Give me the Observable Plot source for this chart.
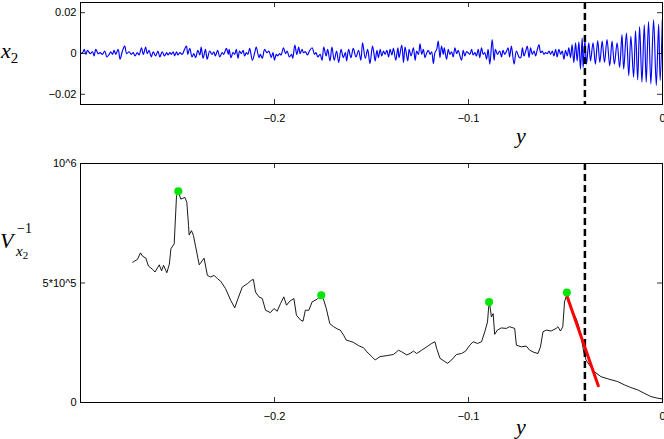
<!DOCTYPE html>
<html><head><meta charset="utf-8">
<script src="https://cdn.jsdelivr.net/npm/d3@7"></script>
<script src="https://cdn.jsdelivr.net/npm/@observablehq/plot@0.6"></script>
<style>
body{margin:0;background:#fff;}
#wrap{position:relative;width:664px;height:439px;overflow:hidden;background:#fff;}
.p{position:absolute;left:0;}
.lab{position:absolute;font-family:"Liberation Serif","DejaVu Serif",serif;font-style:italic;color:#000;line-height:1;white-space:nowrap;}
</style></head><body>
<div id="wrap">
  <div id="top" class="p" style="top:0px"></div>
  <div id="bot" class="p" style="top:150px"></div>
  <div class="lab" style="left:1px;top:40px;font-size:22px">x<span style="font-size:15px;font-style:normal;position:relative;top:5px">2</span></div>
  <div class="lab" style="left:516px;top:125px;font-size:22px">y</div>
  <div class="lab" style="left:516px;top:416px;font-size:22px">y</div>
  <div class="lab" style="left:0px;top:230px;font-size:22px">V</div>
  <div class="lab" style="left:17px;top:222px;font-size:14px;font-style:normal">−1</div>
  <div class="lab" style="left:16px;top:244px;font-size:15px">x<span style="font-size:11px;font-style:normal;position:relative;top:3px">2</span></div>
</div>
<script>
// ---- top panel: x2 signal (values in units of 1e-3) ----
const x2Pos = [
-0.2998,-0.2989,-0.2981,-0.2972,-0.2964,-0.2950,-0.2938,-0.2930,-0.2921,-0.2909,-0.2899,-0.2887,-0.2875,-0.2864,-0.2852,-0.2844,-0.2835,-0.2827,-0.2818,-0.2806,
-0.2796,-0.2784,-0.2772,-0.2762,-0.2750,-0.2738,-0.2728,-0.2719,-0.2707,-0.2698,-0.2686,-0.2676,-0.2664,-0.2656,-0.2647,-0.2635,-0.2625,-0.2613,-0.2601,-0.2591,
-0.2579,-0.2567,-0.2556,-0.2549,-0.2539,-0.2532,-0.2522,-0.2515,-0.2505,-0.2498,-0.2488,-0.2476,-0.2464,-0.2454,-0.2447,-0.2437,-0.2425,-0.2416,-0.2407,-0.2395,
-0.2385,-0.2378,-0.2368,-0.2356,-0.2347,-0.2334,-0.2322,-0.2313,-0.2305,-0.2293,-0.2282,-0.2270,-0.2262,-0.2248,-0.2238,
-0.2234,-0.2224,-0.2214,-0.2205,-0.2197,-0.2188,-0.2180,-0.2171,-0.2162,-0.2154,-0.2145,-0.2137,-0.2128,-0.2114,-0.2102,-0.2094,-0.2080,-0.2073,-0.2063,-0.2051,
-0.2039,-0.2029,-0.2017,-0.2008,-0.2000,-0.1991,-0.1983,-0.1974,-0.1966,-0.1954,-0.1943,-0.1935,-0.1923,-0.1912,-0.1906,-0.1895,-0.1885,-0.1875,-0.1868,-0.1858,
-0.1851,-0.1841,-0.1830,-0.1820,-0.1806,-0.1794,-0.1786,-0.1777,-0.1765,-0.1755,-0.1746,-0.1734,-0.1726,-0.1714,-0.1704,-0.1692,-0.1680,-0.1669,-0.1657,-0.1645,
-0.1635,-0.1628,-0.1618,-0.1606,-0.1594,-0.1580,-0.1567,-0.1555,-0.1546,-0.1532,-0.1520,-0.1508,-0.1495,-0.1488,
-0.1481,-0.1472,-0.1464,-0.1455,-0.1447,-0.1438,-0.1430,-0.1421,-0.1412,-0.1404,-0.1395,-0.1387,-0.1375,-0.1364,-0.1358,-0.1344,-0.1335,-0.1327,-0.1313,-0.1306,
-0.1296,-0.1284,-0.1275,-0.1267,-0.1258,-0.1250,-0.1241,-0.1233,-0.1224,-0.1215,-0.1207,-0.1198,-0.1190,-0.1181,-0.1173,-0.1164,-0.1156,-0.1147,-0.1139,-0.1130,
-0.1125,-0.1113,-0.1104,-0.1096,-0.1087,-0.1079,-0.1070,-0.1061,-0.1053,-0.1044,-0.1036,-0.1027,-0.1019,-0.1010,-0.1002,-0.0993,-0.0984,-0.0976,-0.0967,-0.0959,
-0.0950,-0.0942,-0.0933,-0.0924,-0.0916,-0.0907,-0.0899,-0.0890,-0.0878,-0.0868,-0.0861,-0.0851,-0.0839,-0.0830,-0.0822,-0.0813,-0.0805,-0.0796,-0.0788,-0.0779,
-0.0765,-0.0753,-0.0738,
-0.0731,-0.0722,-0.0714,-0.0705,-0.0697,-0.0688,-0.0680,-0.0671,-0.0662,-0.0654,-0.0645,-0.0637,-0.0628,-0.0620,-0.0611,-0.0603,-0.0594,-0.0585,-0.0577,-0.0568,
-0.0560,-0.0551,-0.0543,-0.0534,-0.0525,-0.0517,-0.0508,-0.0500,-0.0491,-0.0483,-0.0474,-0.0466,-0.0457,-0.0448,-0.0440,-0.0431,-0.0423,-0.0414,-0.0409,-0.0400,
-0.0392,-0.0380,-0.0371,-0.0358,-0.0346,-0.0334,-0.0323,-0.0311,-0.0299,-0.0286,-0.0272,-0.0260,-0.0248,-0.0234,-0.0221,-0.0209,-0.0200,-0.0186,-0.0174,-0.0163,
-0.0149,-0.0139,-0.0128,-0.0118,-0.0106,-0.0094,-0.0084,-0.0072,-0.0060,-0.0046,-0.0032,-0.0020,-0.0012,-0.0001
];
const x2Milli = [
0.08,0.40,2.01,-0.40,1.53,-0.08,0.88,-1.21,2.01,-0.08,0.40,-0.40,1.21,-1.69,-0.40,0.88,-0.40,1.53,-0.40,2.01,
-2.81,1.21,3.62,-0.08,0.88,-0.40,0.40,-1.21,0.40,-0.72,2.81,-0.40,3.13,-0.08,1.53,-1.69,0.88,-1.21,1.21,-1.69,
0.88,-1.21,0.40,-0.72,0.40,-0.40,0.88,-1.21,0.88,-0.72,0.40,-0.40,2.01,3.62,-0.40,2.49,-1.69,-0.08,-2.01,1.53,
-0.72,3.13,-2.33,2.01,-2.81,1.21,-0.40,0.88,-1.21,1.53,-1.69,0.40,-0.40,2.49,-0.40,
2.01,-2.01,0.40,-0.40,2.01,-2.33,1.21,-0.08,1.53,-1.21,0.40,-0.40,2.49,-3.29,0.40,3.13,-2.01,-0.40,-2.33,2.01,
0.40,1.21,-2.01,0.40,-3.29,-0.40,-1.21,-0.08,-0.72,2.81,-0.08,1.21,-1.69,-0.40,-2.33,4.10,-0.40,3.13,-0.08,2.01,
0.40,0.88,-0.72,1.21,2.81,-0.40,0.40,-1.69,-0.40,-3.29,3.13,-1.21,2.01,-3.62,3.13,-3.29,1.21,-4.42,2.01,-2.01,
0.40,-3.62,2.01,-2.01,2.49,-1.69,1.53,-3.29,5.22,-2.33,2.01,-4.90,3.62,0.40,
-3.62,1.53,-2.01,2.01,-1.21,1.21,-0.40,1.53,-1.69,2.01,-0.72,2.49,-3.29,2.81,-2.01,4.10,-4.42,3.13,-3.62,2.01,
-1.21,2.81,-3.29,1.21,-0.40,4.74,-0.40,2.01,-2.01,0.40,1.53,-0.40,0.88,-4.90,0.40,2.01,6.03,-2.01,3.62,-0.40,
2.81,-2.81,2.01,-0.40,0.88,-1.69,2.81,-0.08,1.53,-1.21,-3.29,1.53,-1.21,0.88,0.40,-0.40,2.01,-0.72,0.40,-1.21,
2.01,-2.01,2.81,-0.40,0.40,-2.81,2.01,-5.22,6.83,-3.29,2.01,-0.40,1.21,-1.69,1.53,-0.40,0.88,2.81,-1.69,3.62,
-5.22,1.21,-2.01,
-2.01,2.81,-1.21,1.21,3.62,-2.01,2.81,-0.40,1.21,-1.21,2.01,4.42,0.40,1.21,-0.40,0.40,-0.08,1.21,-0.40,1.21,
-1.21,2.01,-1.69,2.01,-0.40,1.21,-2.81,1.53,-1.21,2.81,-2.01,4.42,-4.42,5.22,-3.62,5.70,-7.63,7.63,-6.83,6.35,
-5.22,5.22,-3.62,5.22,-5.22,6.35,-4.42,6.03,-4.42,6.83,-6.03,6.03,-5.22,5.22,-6.83,9.24,-7.63,10.04,-10.85,8.44,
-11.65,11.17,-12.94,13.26,-14.06,14.06,-14.06,15.67,-14.86,16.47,-15.67,14.38,-13.26,16.47
];

// ---- bottom panel: V_{x2}^{-1} (values in thousands) ----
const vPos = [
-0.2731,-0.2706,-0.2691,-0.2680,-0.2663,-0.2650,-0.2628,-0.2616,-0.2594,-0.2582,-0.2572,-0.2555,-0.2542,-0.2534,-0.2517,-0.2505,-0.2496,-0.2483,-0.2462,-0.2452,
-0.2443,-0.2440,-0.2428,-0.2418,-0.2406,-0.2388,-0.2363,-0.2346,-0.2329,-0.2311,-0.2294,-0.2277,-0.2252,-0.2226,-0.2205,-0.2188,-0.2166,-0.2140,-0.2120,-0.2109,
-0.2098,-0.2080,-0.2063,-0.2046,-0.2021,-0.2003,-0.1986,-0.1969,-0.1952,-0.1938,-0.1921,-0.1900,-0.1887,-0.1866,-0.1853,-0.1841,-0.1823,-0.1806,-0.1781,-0.1760,
-0.1746,-0.1733,-0.1715,-0.1695,-0.1674,-0.1661,-0.1644,-0.1630,-0.1613,-0.1592,-0.1567,-0.1541,-0.1524,-0.1498,-0.1481,-0.1456,-0.1421,-0.1387,-0.1370,
-0.1361,-0.1344,-0.1318,-0.1301,-0.1284,-0.1267,-0.1241,-0.1215,-0.1190,-0.1173,-0.1164,-0.1147,-0.1122,-0.1108,-0.1087,-0.1062,-0.1036,-0.1015,-0.0993,-0.0976,
-0.0954,-0.0933,-0.0916,-0.0902,-0.0896,-0.0891,-0.0882,-0.0873,-0.0865,-0.0851,-0.0831,-0.0805,-0.0788,-0.0762,-0.0753,-0.0728,-0.0702,-0.0685,-0.0663,-0.0642,
-0.0629,-0.0616,-0.0599,-0.0574,-0.0548,-0.0539,-0.0526,-0.0514,-0.0505,-0.0497,-0.0492,-0.0480,-0.0462,-0.0445,-0.0433,-0.0420,-0.0406,-0.0394,-0.0377,-0.0351,
-0.0317,-0.0282,-0.0231,-0.0197,-0.0163,-0.0128,-0.0095,-0.0060,-0.0026,0
];
const vThousands = [
587,599,626,612,604,571,557,546,576,551,574,543,579,643,664,865,883,851,858,838,
740,701,719,699,650,576,604,532,525,532,518,507,476,428,396,435,483,497,511,515,
462,442,435,386,376,393,382,414,442,407,424,435,365,345,340,386,386,421,432,449,
428,393,330,317,307,303,282,261,257,251,238,229,212,192,178,192,196,201,212,
219,212,199,205,215,205,219,233,247,254,226,185,171,164,178,201,205,215,240,254,
247,254,296,337,400,414,358,372,285,303,312,310,317,310,240,233,236,219,210,205,
233,296,303,299,310,317,299,317,421,442,449,414,379,351,324,275,212,178,157,129,
108,99,87.5,74,62.5,53,39,25,18,15
];

// markers, fitted line, threshold
const peakPos = [-0.2496, -0.1759, -0.0894, -0.0493];
const peakThousands = [884, 449, 420, 460];
const fitPos = [-0.0492, -0.0331];
const fitThousands = [445, 70];
const thresholdPos = -0.040;

// ticks
const xTicks = [-0.2, -0.1, 0];
const xTickLabels = ["\u22120.2", "\u22120.1", "0"];
const topYTicks = [-0.02, 0, 0.02];
const topYTickLabels = ["\u22120.02", "0", "0.02"];
const botYTicks = [0, 500000, 1000000];
const botYTickLabels = ["0", "5*10^5", "10^6"];

const topData = x2Pos.map((p, i) => ({y: p, v: x2Milli[i] / 1000}));
const botData = vPos.map((p, i) => ({y: p, v: vThousands[i] * 1000}));
const peaks = peakPos.map((p, i) => ({y: p, v: peakThousands[i] * 1000}));
const fit = fitPos.map((p, i) => ({y: p, v: fitThousands[i] * 1000}));

const W = 664, ML = 80, MR = 2;
const frameW = W - ML - MR;
const font = {fontFamily: "'Liberation Sans', Arial, sans-serif", fontSize: "11px", color: "#000", background: "transparent", overflow: "visible"};

function ticksMarks(yTicks, frameH) {
  return [
    Plot.ruleX(xTicks, {insetTop: frameH - 5, stroke: "#000", strokeWidth: 0.8}),
    Plot.ruleX(xTicks, {insetBottom: frameH - 5, stroke: "#000", strokeWidth: 0.8}),
    Plot.ruleY(yTicks, {insetRight: frameW - 5, stroke: "#000", strokeWidth: 0.8}),
    Plot.ruleY(yTicks, {insetLeft: frameW - 5, stroke: "#000", strokeWidth: 0.8})
  ];
}

const topH = 130, topMT = 2, topMB = 26;
const topPlot = Plot.plot({
  width: W, height: topH, marginLeft: ML, marginRight: MR, marginTop: topMT, marginBottom: topMB,
  style: font,
  x: {domain: [-0.3, 0]},
  y: {domain: [-0.025, 0.025]},
  marks: [
    Plot.line(topData, {x: "y", y: "v", stroke: "#0000ff", strokeWidth: 1.15, curve: "catmull-rom"}),
    Plot.ruleX([thresholdPos], {stroke: "#000", strokeWidth: 2.5, strokeDasharray: "7,4"}),
    ...ticksMarks(topYTicks, topH - topMT - topMB),
    Plot.frame({stroke: "#000", strokeWidth: 1}),
    Plot.axisX(xTicks, {tickSize: 0, tickPadding: 10, label: null, tickFormat: d => xTickLabels[xTicks.indexOf(d)]}),
    Plot.axisY(topYTicks, {tickSize: 0, tickPadding: 4, label: null, tickFormat: d => topYTickLabels[topYTicks.indexOf(d)]})
  ]
});
document.getElementById("top").appendChild(topPlot);

const botH = 289, botMT = 13, botMB = 37;
const botPlot = Plot.plot({
  width: W, height: botH, marginLeft: ML, marginRight: MR, marginTop: botMT, marginBottom: botMB,
  style: font,
  x: {domain: [-0.3, 0]},
  y: {domain: [0, 1000000]},
  marks: [
    Plot.line(botData, {x: "y", y: "v", stroke: "#000", strokeWidth: 0.9}),
    Plot.ruleX([thresholdPos], {stroke: "#000", strokeWidth: 2.5, strokeDasharray: "7,4"}),
    Plot.line(fit, {x: "y", y: "v", stroke: "#ff0000", strokeWidth: 3}),
    Plot.dot(peaks, {x: "y", y: "v", r: 4, fill: "#00e600", stroke: "none"}),
    ...ticksMarks(botYTicks, botH - botMT - botMB),
    Plot.frame({stroke: "#000", strokeWidth: 1}),
    Plot.axisX(xTicks, {tickSize: 0, tickPadding: 10, label: null, tickFormat: d => xTickLabels[xTicks.indexOf(d)]}),
    Plot.axisY(botYTicks, {tickSize: 0, tickPadding: 4, label: null, tickFormat: d => botYTickLabels[botYTicks.indexOf(d)]})
  ]
});
document.getElementById("bot").appendChild(botPlot);
</script>
</body></html>
